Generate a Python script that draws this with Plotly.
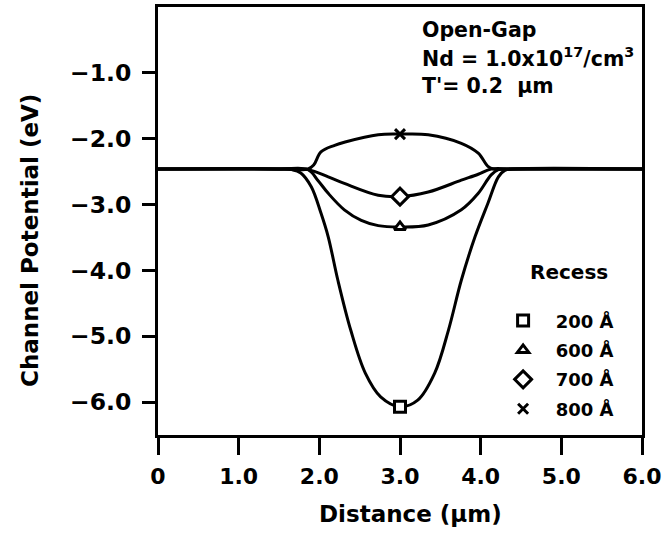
import plotly.graph_objects as go

# ---- data ----
x_200 = [0.0, 1.50, 1.66, 1.77, 1.90, 2.02, 2.11, 2.23, 2.39, 2.57, 2.76, 3.00, 3.22, 3.43, 3.60, 3.76, 3.93, 4.09, 4.22, 4.30, 4.40, 6.0]
y_200 = [-2.46, -2.46, -2.47, -2.52, -2.73, -3.13, -3.49, -4.15, -4.91, -5.56, -5.92, -6.07, -5.97, -5.56, -4.91, -4.15, -3.49, -2.98, -2.58, -2.48, -2.46, -2.46]

x_600 = [0.0, 1.50, 1.86, 1.98, 2.11, 2.31, 2.52, 2.73, 3.00, 3.35, 3.76, 3.97, 4.13, 4.22, 4.40, 6.0]
y_600 = [-2.46, -2.46, -2.47, -2.63, -2.83, -3.08, -3.24, -3.32, -3.34, -3.31, -3.08, -2.83, -2.55, -2.47, -2.46, -2.46]

x_700 = [0.0, 1.50, 1.86, 2.11, 2.31, 2.73, 3.00, 3.35, 3.76, 3.97, 4.13, 4.40, 6.0]
y_700 = [-2.46, -2.46, -2.47, -2.58, -2.68, -2.86, -2.88, -2.81, -2.63, -2.54, -2.46, -2.46, -2.46]

x_800 = [0.0, 1.50, 1.86, 1.93, 2.02, 2.19, 2.32, 2.73, 3.00, 3.35, 3.76, 3.97, 4.09, 4.16, 4.40, 6.0]
y_800 = [-2.46, -2.46, -2.46, -2.40, -2.20, -2.10, -2.05, -1.94, -1.93, -1.94, -2.07, -2.22, -2.42, -2.46, -2.46, -2.46]

recess_labels = ["200 Å", "600 Å", "700 Å", "800 Å"]
marker_x = [3.0, 3.0, 3.0, 3.0]
marker_y = [-6.07, -3.34, -2.88, -1.93]
symbols = ["square", "triangle-up", "diamond", "x-thin"]

x_tickvals = [0, 1, 2, 3, 4, 5, 6]
x_ticktext = ["0", "1.0", "2.0", "3.0", "4.0", "5.0", "6.0"]
y_tickvals = [-1, -2, -3, -4, -5, -6]
y_ticktext = ["\u22121.0", "\u22122.0", "\u22123.0", "\u22124.0", "\u22125.0", "\u22126.0"]

FONT = "DejaVu Sans"
BOLD = dict(family=FONT, weight="bold", color="black")

# plot-area pixel geometry (for placing free text)
L, R, T, B = 158, 642, 7, 435
def px(xp):
    return (xp - L) / (R - L)
def py(yp):
    return (B - yp) / (B - T)

fig = go.Figure()
for xs, ys in [(x_200, y_200), (x_600, y_600), (x_700, y_700), (x_800, y_800)]:
    fig.add_trace(go.Scatter(x=xs, y=ys, mode="lines",
                             line=dict(color="black", width=3, shape="spline", smoothing=1.0),
                             showlegend=False, hoverinfo="skip"))

sizes = [11, 10, 13, 10]
fills = ["white", "white", "white", "black"]
for i in range(4):
    fig.add_trace(go.Scatter(x=[marker_x[i]], y=[marker_y[i]], mode="markers",
                             name="\u00a0\u00a0" + recess_labels[i], legendgroup="g%d" % i,
                             marker=dict(symbol=symbols[i], size=sizes[i], color=fills[i],
                                         line=dict(color="black", width=3))))

fig.update_layout(
    width=665, height=541,
    margin=dict(l=L, r=665 - R, t=T, b=541 - B),
    paper_bgcolor="white", plot_bgcolor="white",
    font=dict(size=20, **BOLD),
    showlegend=True,
    legend=dict(x=0.713, y=0.31, xanchor="left", yanchor="top",
                bgcolor="rgba(0,0,0,0)", font=dict(size=18, **BOLD),
                itemwidth=30, traceorder="grouped", tracegroupgap=3),
    xaxis=dict(range=[0, 6], tickvals=x_tickvals, ticktext=x_ticktext,
               tickfont=dict(size=22, **BOLD), automargin=False, ticklabelstandoff=3,
               showline=True, linecolor="black", linewidth=3, mirror=True,
               ticks="outside", ticklen=17, tickwidth=3, tickcolor="black",
               showgrid=False, zeroline=False),
    yaxis=dict(range=[-6.5, 0], tickvals=y_tickvals, ticktext=y_ticktext,
               tickfont=dict(size=23.5, **BOLD), automargin=False, ticklabelstandoff=6,
               showline=True, linecolor="black", linewidth=3, mirror=True,
               ticks="outside", ticklen=13, tickwidth=3, tickcolor="black",
               showgrid=False, zeroline=False),
)

# axis titles (placed as text to match the reference's off-centre positions)
fig.add_annotation(xref="paper", yref="paper", x=px(30), y=py(241), textangle=-90,
                   xanchor="center", yanchor="middle", showarrow=False,
                   text="Channel Potential (eV)", font=dict(size=23, **BOLD))
fig.add_annotation(xref="paper", yref="paper", x=px(410), y=py(514),
                   xanchor="center", yanchor="middle", showarrow=False,
                   text="Distance (μm)", font=dict(size=23, **BOLD))

info_lines = ["Open-Gap", "Nd = 1.0x10<sup>17</sup>/cm<sup>3</sup>", "T'= 0.2  μm"]
info_y = [30, 58, 86]
for txt, yp in zip(info_lines, info_y):
    fig.add_annotation(xref="paper", yref="paper", x=px(420), y=py(yp),
                       xanchor="left", yanchor="middle", showarrow=False, text=txt,
                       font=dict(size=20.5, **BOLD))

fig.add_annotation(xref="paper", yref="paper", x=px(569), y=py(272),
                   xanchor="center", yanchor="middle", showarrow=False, text="Recess",
                   font=dict(size=20, **BOLD))

fig.write_html("out.html", config={"displayModeBar": False})

# remove the browser's default page margin so the figure sits at the window's corner
with open("out.html", "r", encoding="utf-8") as f:
    html = f.read()
html = html.replace("<head>", "<head><style>html,body{margin:0;padding:0;}</style>", 1)
with open("out.html", "w", encoding="utf-8") as f:
    f.write(html)
